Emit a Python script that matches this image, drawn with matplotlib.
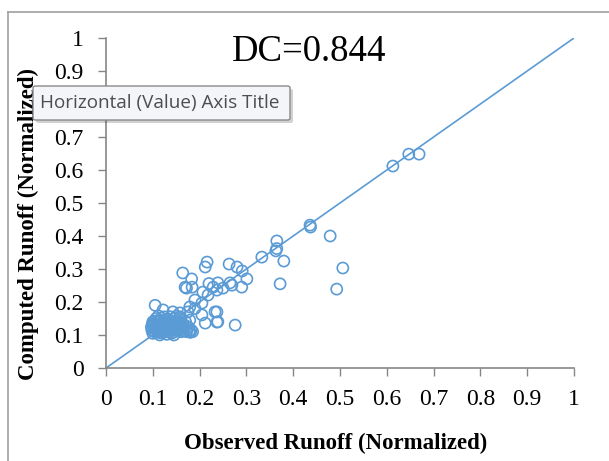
import numpy as np
import matplotlib.pyplot as plt
from matplotlib.patches import FancyBboxPatch
from matplotlib.lines import Line2D

# scattered points (observed, computed)
obs_outer = [0.613, 0.647, 0.669, 0.436, 0.437, 0.479, 0.506, 0.493, 0.372, 0.380,
             0.365, 0.363, 0.365, 0.333, 0.276, 0.216, 0.212, 0.263, 0.280, 0.291,
             0.301, 0.164, 0.183, 0.172, 0.239, 0.250, 0.265, 0.237, 0.207, 0.218,
             0.190, 0.205, 0.179, 0.175, 0.233, 0.237, 0.237, 0.212, 0.205, 0.105,
             0.122, 0.143, 0.158, 0.169, 0.184, 0.229, 0.220, 0.269, 0.290, 0.190,
             0.179, 0.158, 0.239]
comp_outer = [0.612, 0.648, 0.648, 0.433, 0.427, 0.400, 0.303, 0.239, 0.255, 0.324,
              0.385, 0.355, 0.362, 0.336, 0.130, 0.321, 0.306, 0.315, 0.306, 0.294,
              0.270, 0.288, 0.270, 0.242, 0.258, 0.242, 0.258, 0.236, 0.230, 0.221,
              0.206, 0.197, 0.185, 0.170, 0.170, 0.170, 0.139, 0.136, 0.161, 0.190,
              0.176, 0.170, 0.155, 0.245, 0.245, 0.245, 0.256, 0.251, 0.245, 0.180,
              0.145, 0.167, 0.140]

# dense cluster near (0.1-0.18, 0.1-0.16)
obs_cluster = [0.100, 0.102, 0.104, 0.101, 0.103, 0.105, 0.107, 0.106, 0.108, 0.110,
               0.109, 0.111, 0.112, 0.114, 0.113, 0.115, 0.116, 0.118, 0.117, 0.119,
               0.120, 0.121, 0.122, 0.124, 0.125, 0.126, 0.127, 0.128, 0.129, 0.130,
               0.131, 0.132, 0.133, 0.135, 0.136, 0.137, 0.138, 0.139, 0.140, 0.141,
               0.142, 0.143, 0.145, 0.146, 0.147, 0.148, 0.150, 0.151, 0.152, 0.154,
               0.155, 0.156, 0.158, 0.160, 0.161, 0.162, 0.164, 0.166, 0.168, 0.170,
               0.172, 0.174, 0.176, 0.178, 0.180, 0.182, 0.098, 0.097, 0.099, 0.100,
               0.112, 0.125, 0.138, 0.150, 0.160, 0.170, 0.185, 0.115, 0.130, 0.145]
comp_cluster = [0.105, 0.112, 0.120, 0.128, 0.135, 0.142, 0.150, 0.108, 0.116, 0.124,
                0.132, 0.140, 0.110, 0.118, 0.126, 0.134, 0.145, 0.152, 0.106, 0.113,
                0.121, 0.129, 0.137, 0.108, 0.116, 0.124, 0.132, 0.141, 0.112, 0.120,
                0.128, 0.136, 0.147, 0.110, 0.118, 0.126, 0.134, 0.143, 0.105, 0.114,
                0.122, 0.130, 0.138, 0.150, 0.110, 0.118, 0.126, 0.134, 0.142, 0.113,
                0.121, 0.129, 0.137, 0.110, 0.118, 0.126, 0.134, 0.112, 0.120, 0.128,
                0.110, 0.117, 0.124, 0.112, 0.108, 0.115, 0.115, 0.124, 0.132, 0.140,
                0.158, 0.155, 0.155, 0.157, 0.148, 0.140, 0.110, 0.100, 0.102, 0.100]

dc_value = 0.844
ticks = [0, 0.1, 0.2, 0.3, 0.4, 0.5, 0.6, 0.7, 0.8, 0.9, 1]
tick_labels = ['0', '0.1', '0.2', '0.3', '0.4', '0.5', '0.6', '0.7', '0.8', '0.9', '1']

blue = '#5B9BD5'
serif = ['Liberation Serif', 'DejaVu Serif']

fig = plt.figure(figsize=(6.09, 4.61), dpi=100)
ax = fig.add_axes([106/609, 1 - 368/461, 468/609, 330/461])

ax.plot([0, 1], [0, 1], color=blue, linewidth=1.2, zorder=2)
ax.scatter(obs_outer + obs_cluster, comp_outer + comp_cluster, s=64,
           facecolors='none', edgecolors=blue, linewidths=1.2, zorder=3)

ax.set_xlim(0, 1)
ax.set_ylim(0, 1)
ax.set_xticks(ticks)
ax.set_xticklabels(tick_labels)
ax.set_yticks(ticks)
ax.set_yticklabels(tick_labels)
for lab in ax.get_xticklabels() + ax.get_yticklabels():
    lab.set_family(serif)
    lab.set_fontsize(17)
ax.tick_params(axis='both', direction='out', length=6, width=1, color='#868686')
ax.tick_params(axis='x', pad=9)
ax.tick_params(axis='y', pad=10)
for side in ['top', 'right']:
    ax.spines[side].set_visible(False)
for side in ['left', 'bottom']:
    ax.spines[side].set_color('#868686')
    ax.spines[side].set_linewidth(1.2)

ax.text(0.269, 0.958, f'DC={dc_value}', fontsize=26.5, family=serif,
        ha='left', va='center')

fig.text(28/609, 1 - 224/461, 'Computed Runoff (Normalized)', rotation=90,
         fontsize=16.5, fontweight='bold', family=serif, ha='center', va='center')
fig.text(336/609, 1 - 443/461, 'Observed Runoff (Normalized)',
         fontsize=16.5, fontweight='bold', family=serif, ha='center', va='center')

# chart area frame (left and top edges visible)
fig.add_artist(Line2D([8/609, 8/609], [0, 1 - 12/461], transform=fig.transFigure,
                      color='#a0a0a0', linewidth=1.2))
fig.add_artist(Line2D([8/609, 1], [1 - 12/461, 1 - 12/461], transform=fig.transFigure,
                      color='#a0a0a0', linewidth=1.2))

# tooltip
bx, by, bw, bh = 33/609, 1 - 120/461, 257/609, 34/461
shadow = FancyBboxPatch((bx + 3/609, by - 3/461), bw, bh, boxstyle='round,pad=0,rounding_size=0.004',
                        transform=fig.transFigure, facecolor='#000000', alpha=0.18,
                        edgecolor='none', zorder=10)
box = FancyBboxPatch((bx, by), bw, bh, boxstyle='round,pad=0,rounding_size=0.004',
                     transform=fig.transFigure, facecolor='#f3f5f9', edgecolor='#8a8a8a',
                     linewidth=1, zorder=11)
fig.add_artist(shadow)
fig.add_artist(box)
fig.text(bx + 7/609, by + bh/2, 'Horizontal (Value) Axis Title', fontsize=13.6,
         family=['Open Sans', 'DejaVu Sans'], color='#4d4d4d', ha='left', va='center', zorder=12)

fig.savefig('out.png', dpi=100)
